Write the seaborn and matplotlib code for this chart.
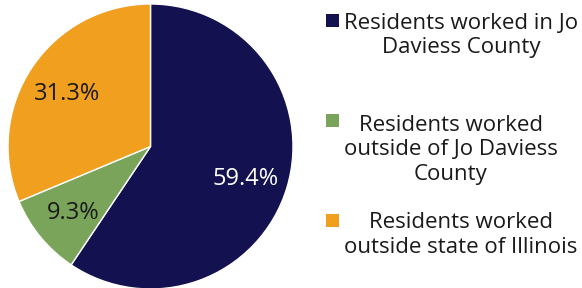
import matplotlib
matplotlib.use("Agg")
import matplotlib.pyplot as plt
import seaborn as sns
from matplotlib.patches import Rectangle

categories = ["Residents worked in Jo\nDaviess County",
              "Residents worked\noutside of Jo Daviess\nCounty",
              "Residents worked\noutside state of Illinois"]
values = [59.4, 9.3, 31.3]
colors = ["#13114f", "#7aa45a", "#f09f1f"]
label_colors = ["white", "#1a1a1a", "#1a1a1a"]

sns.set_theme(style="white")
plt.rcParams['font.family'] = ['Open Sans', 'DejaVu Sans']

fig = plt.figure(figsize=(5.82, 2.88), dpi=100)
W, H = 582, 288
ax = fig.add_axes([8 / W, -1 / H, 285 / W, 285 / H])
palette = sns.color_palette(colors)
wedges, texts, autotexts = ax.pie(values, colors=palette, startangle=90, counterclock=False,
                                  autopct="%.1f%%", pctdistance=0.7, radius=1,
                                  textprops=dict(fontsize=17))
for t, c in zip(autotexts, label_colors):
    t.set_color(c)
    t.set_va("center_baseline")
ax.set_xlim(-1, 1)
ax.set_ylim(-1, 1)
ax.set_aspect("equal")
ax.axis("off")

# legend drawn manually
text_left = 344
last_baseline = [53.5, 180, 252.7]
square_cy = [20, 121, 220]
for cat, col, yb, cy in zip(categories, colors, last_baseline, square_cy):
    fig.patches.append(Rectangle((326 / W, 1 - (cy + 6.5) / H), 13 / W, 13 / H,
                                 transform=fig.transFigure, facecolor=col, edgecolor="none"))
    fig.text(text_left / W, 1 - yb / H, cat, ha="left", va="baseline",
             multialignment="center", fontsize=16, color="#1a1a1a", linespacing=1.22)

fig.savefig("out.png", dpi=100)
